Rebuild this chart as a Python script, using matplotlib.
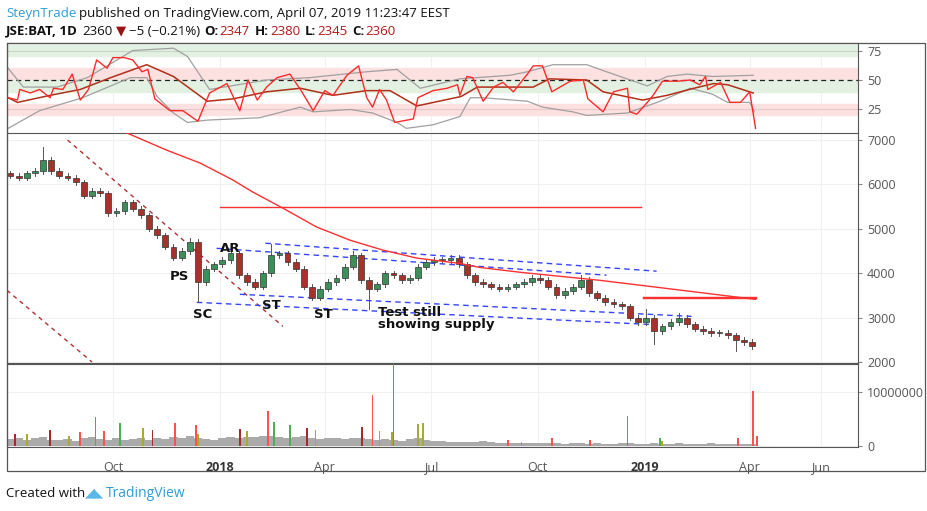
import matplotlib
matplotlib.use("Agg")
import matplotlib.pyplot as plt
from matplotlib.patches import Rectangle
import numpy as np

plt.rcParams['font.family'] = 'Open Sans'

# ---------------- data ----------------
# weekly closes starting week of 2017-07-03 (day offsets relative to 2018-01-01)
week_start_day = -182
closes = [6200, 6150, 6250, 6300, 6550, 6300, 6200, 6150, 6050, 5750,
          5850, 5800, 5350, 5400, 5600, 5450, 5300, 5000, 4850, 4600,
          4350, 4500, 4700, 3800, 4100, 4200, 4300, 4450, 3950, 3800,
          3700, 4000, 4400, 4450, 4250, 4100, 3700, 3450, 3650, 3800,
          3900, 4150, 4400, 3850, 3650, 3750, 4000, 3950, 3850, 3900,
          4150, 4250, 4300, 4300, 4350, 4200, 3950, 3800, 3750, 3700,
          3650, 3700, 3750, 3800, 3900, 3850, 3700, 3500, 3600, 3700,
          3850, 3550, 3450, 3350, 3300, 3250, 3000, 2900, 3000, 2700,
          2800, 2900, 3000, 2850, 2750, 2700, 2650, 2650, 2600, 2500,
          2450, 2360]
first_open = 6250
wick_high = {4: 6850, 22: 4800, 27: 4600, 32: 4650, 42: 4500, 54: 4400, 70: 3950, 78: 3200, 82: 3100}
wick_low = {23: 3350, 37: 3400, 44: 3200, 79: 2400, 89: 2250, 9: 5700}

# 200-day moving average (day offset, price)
ma_days = [-80, -46, -17, 11, 28, 54, 83, 112, 140, 169, 206, 223, 258, 326, 395, 460]
ma_vals = [7158, 6774, 6480, 6100, 5830, 5465, 5040, 4740, 4520, 4340, 4220, 4130, 4020,
           3840, 3620, 3410]

# drawn lines: (day0, price0, day1, price1)
red_dashed = [(-131, 7000, 54, 2802), (-183, 3614, -110, 2000)]
blue_dashed = [(39, 4675, 375, 4045), (-3, 4560, 332, 3955),
               (17, 3524, 405, 3027), (-20, 3343, 369, 2846)]
red_hlines = [(0, 362, 5490), (363, 460, 3456), (363, 460, 3430)]

labels = [("PS", -43, 3930), ("AR", 0, 4560), ("SC", -23, 3080), ("ST", 36, 3270),
          ("ST", 81, 3060), ("Test still\nshowing supply", 136, 2980)]

# RSI (day offset, value)
rsi_days = [-182, -174, -172, -163, -155, -146, -143, -135, -127, -120, -113, -106, -97, -92,
            -82, -75, -67, -62, -56, -43, -32, -19, -9, 6, 17, 24, 32, 40, 49, 60, 69, 80, 90,
            97, 109, 119, 126, 131, 137, 143, 150, 166, 170, 183, 195, 204, 206, 212, 217, 226, 235,
            243, 252, 264, 269, 277, 285, 292, 301, 312, 316, 329, 338, 350, 352, 358, 367, 372,
            380, 393, 404, 412, 417, 419, 430, 438, 447, 455, 460]
rsi_vals = [35, 33, 42, 39, 42, 35, 43, 42, 55, 33, 42, 67, 60, 69, 69, 67, 57, 59, 34, 24,
            24, 15, 39, 47, 24, 50, 33, 44, 52, 55, 42, 24, 41, 37, 54, 62, 35, 27, 42, 33, 14,
            17, 35, 41, 43, 46, 37, 53, 52, 32, 44, 48, 40, 55, 62, 62, 40, 44, 49, 50, 34, 23,
            40, 43, 23, 21, 31, 37, 49, 49, 50, 46, 53, 42, 48, 31, 31, 40, 9]
rsima_days = [-182, -174, -146, -120, -94, -63, -40, -11, 11, 40, 69, 97, 126, 146, 169, 207,
              221, 269, 283, 315, 329, 363, 384, 407, 424, 436, 458]
rsima_vals = [35, 31, 37, 42, 52, 63, 53, 32, 34, 40, 43, 37, 41, 41, 28, 36, 44, 44, 51, 50,
              40, 33, 37, 43, 47, 46, 39]
bbu_days = [-182, -169, -140, -114, -75, -40, -28, -9, 40, 77, 106, 126, 152, 172, 206, 249,
            264, 286, 315, 332, 367, 384, 401, 423, 458]
bbu_vals = [60, 44, 44, 52, 75, 77, 70, 42, 50, 52, 55, 57, 59, 43, 51, 54, 57, 63, 63, 57,
            45, 53, 55, 53, 54]
bbl_days = [-182, -155, -118, -77, -63, -54, -40, -28, -11, 34, 69, 80, 112, 131, 152, 160,
            183, 206, 215, 226, 264, 277, 303, 315, 350, 378, 404, 423, 436, 455, 459]
bbl_vals = [9, 24, 35, 52, 52, 36, 22, 14, 16, 18, 27, 23, 25, 22, 14, 9, 12, 19, 35, 35, 32,
            27, 23, 20, 22, 32, 43, 38, 31, 31, 23]

# volume (millions)
vol_base = [1.3, 1.5, 1.2, 1.4, 1.6, 1.2, 1.1, 1.3, 1.0, 1.4, 1.6, 1.3, 1.2, 1.5, 1.1, 1.3,
            1.4, 1.2, 1.5, 1.3, 1.6, 1.4, 1.8, 1.5, 1.3, 1.2, 1.4, 1.6, 1.5, 1.7, 1.6, 1.8,
            1.9, 1.7, 1.5, 1.6, 1.8, 1.4, 1.3, 1.5, 1.4, 1.3, 1.5, 1.4, 1.3, 1.1, 1.3, 1.2,
            1.0, 1.3, 1.5, 1.2, 1.0, 0.9, 0.8, 0.8, 0.7, 0.8, 0.9, 0.7, 0.6, 0.5, 0.6, 0.5,
            0.5, 0.6, 0.5, 0.5, 0.4, 0.5, 0.5, 0.4, 0.5, 0.4, 0.4, 0.5, 0.5, 0.4, 0.4, 0.5,
            0.4, 0.4, 0.5, 0.4, 0.4, 0.4, 0.5, 0.4, 0.4, 0.4, 0.4, 0.4]
vol_spike_days = [-176, -166, -146, -130, -120, -107, -100, -86, -66, -58, -39, -21, -19, 17,
                  23, 41, 46, 60, 75, 82, 122, 131, 137, 148, 149, 170, 174, 247, 259, 285,
                  318, 350, 378, 380, 445, 458, 461]
vol_spike_vals = [2.2, 2.3, 3.0, 1.8, 2.6, 5.3, 2.7, 4.2, 3.3, 3.0, 4.3, 3.8, 2.2, 3.1, 2.7,
                  6.5, 4.5, 3.8, 3.3, 3.0, 3.6, 9.5, 2.8, 2.5, 16.0, 4.0, 4.3, 1.2, 0.8, 1.4,
                  1.2, 5.5, 1.4, 1.0, 1.4, 10.2, 1.8]
vol_spike_cols = ['d', 'o', 'd', 'o', 'r', 'g', 'r', 'g', 'o', 'd', 'r', 'r', 'o', 'd', 'o',
                  'r', 'g', 'g', 'd', 'o', 'd', 'r', 'o', 'o', 'r', 'o', 'o', 'r', 'o', 'r',
                  'r', 'r', 'g', 'o', 'r', 'r', 'r']

time_ticks = [-92, 0, 90, 181, 273, 365, 455, 516]
time_labels = ["Oct", "2018", "Apr", "Jul", "Oct", "2019", "Apr", "Jun"]
price_ticks = [2000, 3000, 4000, 5000, 6000, 7000]
rsi_ticks = [25, 50, 75]

# ---------------- figure ----------------
W, H = 928, 511
fig = plt.figure(figsize=(W / 100, H / 100), dpi=100)
def fx(x): return x / W
def fy(y): return 1 - y / H

XL = (-183, 548)
GRID = '#f0f0f0'
TXT = '#555555'

ax_r = fig.add_axes([fx(7), fy(132), fx(851), (132 - 43) / H])
ax_p = fig.add_axes([fx(7), fy(363), fx(851), (363 - 133) / H])
ax_v = fig.add_axes([fx(7), fy(447), fx(851), (447 - 364) / H])

for ax in (ax_r, ax_p, ax_v):
    ax.set_xlim(*XL)
    ax.yaxis.tick_right()
    for s in ax.spines.values():
        s.set_color('#555555'); s.set_linewidth(0.8)
    ax.tick_params(axis='y', colors=TXT, labelsize=9, length=3, color='#888888')
    ax.tick_params(axis='x', length=0)
    ax.set_xticks(time_ticks)
    ax.grid(axis='x', color=GRID, lw=0.8)
    ax.set_axisbelow(True)

# RSI
ax_r.set_ylim(5.9, 81.4)
ax_r.axhspan(70, 80, color='#e3f1e3')
ax_r.axhspan(50, 60, color='#fde0e0')
ax_r.axhspan(40, 50, color='#e3f1e3')
ax_r.axhspan(20, 30, color='#fde0e0')
ax_r.axhline(75, color='#c8d8c8', lw=0.8)
ax_r.axhline(25, color='#e8c8c8', lw=0.8)
ax_r.axhline(50, color='#222222', lw=0.9, ls=(0, (4, 3)))
ax_r.plot(bbu_days, bbu_vals, color='#a0a0a0', lw=0.9)
ax_r.plot(bbl_days, bbl_vals, color='#a0a0a0', lw=0.9)
ax_r.plot(rsima_days, rsima_vals, color='#b03018', lw=1.1)
ax_r.plot(rsi_days, rsi_vals, color='#ff2a2a', lw=1.0)
ax_r.set_yticks(rsi_ticks)
ax_r.set_xticklabels([])
ax_r.spines['bottom'].set_visible(False)

# Price
ax_p.set_ylim(1977, 7158)
ax_p.set_yticks(price_ticks)
ax_p.grid(axis='y', color=GRID, lw=0.8)
ax_p.set_xticklabels([])
opens = [first_open] + closes[:-1]
for i, (o, c) in enumerate(zip(opens, closes)):
    d = week_start_day + 2 + 7 * i
    hi = wick_high.get(i, max(o, c) + 60)
    lo = wick_low.get(i, min(o, c) - 60)
    up = c >= o
    col = '#3d8f5a' if up else '#a8322a'
    ax_p.plot([d, d], [lo, hi], color='#555555', lw=0.7, zorder=3)
    ax_p.add_patch(Rectangle((d - 2.5, min(o, c)), 5, max(abs(c - o), 15),
                             facecolor=col, edgecolor='#333333', lw=0.5, zorder=4))
ax_p.plot(ma_days, ma_vals, color='#ff3030', lw=1.0, zorder=5)
for d0, p0, d1, p1 in red_dashed:
    ax_p.plot([d0, d1], [p0, p1], color='#b03030', lw=1.0, ls=(0, (3, 3)), zorder=2)
for d0, p0, d1, p1 in blue_dashed:
    ax_p.plot([d0, d1], [p0, p1], color='#3344ff', lw=1.0, ls=(0, (4, 3)), zorder=2)
for d0, d1, p in red_hlines:
    ax_p.plot([d0, d1], [p, p], color='#ff3030', lw=1.0, zorder=5)
for t, d, p in labels:
    ax_p.text(d, p, t, fontsize=9.5, fontweight='bold', color='#111111',
              ha='left', va='center', linespacing=0.95, zorder=6, fontfamily='DejaVu Sans')

# Volume
ax_v.set_ylim(-0.19, 15.2)
ax_v.set_yticks([0, 10])
ax_v.set_yticklabels(["0", "10000000"])
ax_v.grid(axis='y', color=GRID, lw=0.8)
bd = [week_start_day + 2 + 7 * i for i in range(len(vol_base))]
ax_v.bar(bd, vol_base, width=7, color='#aaaaaa', zorder=2)
cmap = {'r': '#ff5050', 'd': '#a52a2a', 'g': '#4caf50', 'o': '#a8a832'}
ax_v.bar(vol_spike_days, vol_spike_vals, width=1.6,
         color=[cmap[c] for c in vol_spike_cols], zorder=3)
ax_v.set_xticklabels(time_labels)
ax_v.tick_params(axis='x', colors=TXT, labelsize=9, pad=10)
for lab in ax_v.get_xticklabels():
    if lab.get_text() in ("2018", "2019"):
        lab.set_fontweight('bold'); lab.set_color('#333333')

# outer frame
fig.add_artist(Rectangle((fx(7), fy(471)), fx(918), (471 - 43) / H, transform=fig.transFigure,
                         fill=False, edgecolor='#555555', lw=0.9))

# header (chained text pieces)
renderer = fig.canvas.get_renderer()
def chain(pieces, x0, ypix, size=9.5):
    x = x0
    for txt, col, bold, gap in pieces:
        t = fig.text(fx(x), fy(ypix), txt, color=col, fontsize=size, va='center',
                     fontweight='bold' if bold else 'normal',
                     fontfamily='DejaVu Sans' if txt == '▼' else 'Open Sans')
        bb = t.get_window_extent(renderer)
        x += bb.width + gap

chain([("SteynTrade", '#2e9bd6', False, 3),
       ("published on TradingView.com, April 07, 2019 11:23:47 EEST", '#111111', False, 0)],
      6, 14, 9.5)
DR = '#b01818'
chain([("JSE:BAT, 1D", '#111111', True, 5), ("2360", '#111111', False, 3),
       ("▼", '#9b1010', False, 3), ("\u22125 (\u22120.21%)", '#111111', False, 4),
       ("O:", '#111111', True, 1), ("2347", DR, False, 5),
       ("H:", '#111111', True, 1), ("2380", DR, False, 5),
       ("L:", '#111111', True, 1), ("2345", DR, False, 5),
       ("C:", '#111111', True, 1), ("2360", DR, False, 0)], 6, 31, 9.5)

fig.text(fx(6), fy(493), "Created with", fontsize=9.5, va='center', color='#111111')
fig.text(fx(85), fy(493), "◢◣", fontsize=9, va='center', color='#5ab8e8', fontfamily='DejaVu Sans')
fig.text(fx(106), fy(493), "TradingView", fontsize=10, va='center', color='#2e9bd6')

fig.savefig("out.png", dpi=100)
